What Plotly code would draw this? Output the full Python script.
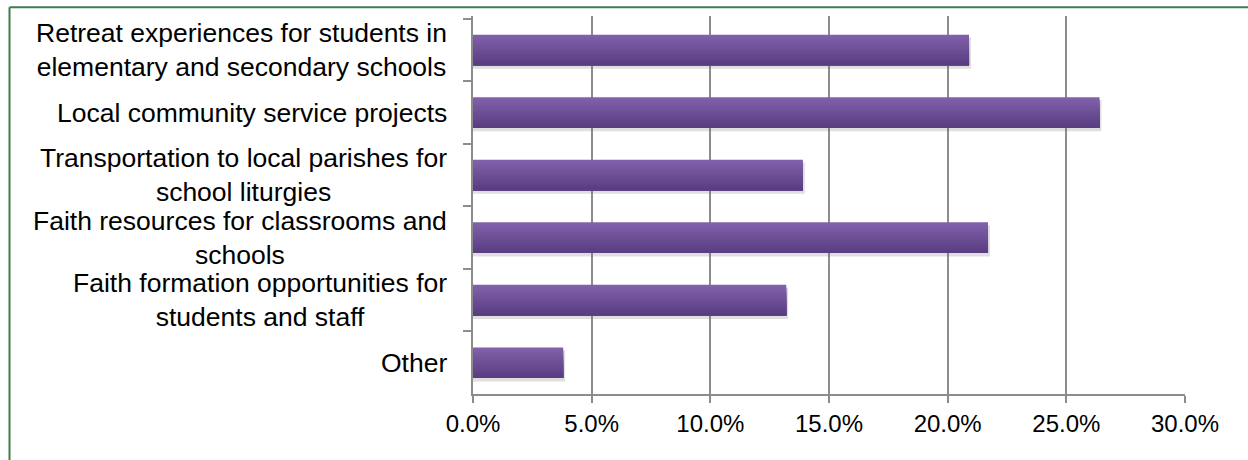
import plotly.graph_objects as go

categories = [
    "Retreat experiences for students in<br>elementary and secondary schools",
    "Local community service projects",
    "Transportation to local parishes for<br>school liturgies",
    "Faith resources for classrooms and<br>schools",
    "Faith formation opportunities for<br>students and staff",
    "Other",
]
values = [20.9, 26.4, 13.9, 21.7, 13.2, 3.8]
tick_vals = [0, 5, 10, 15, 20, 25, 30]
tick_text = ["0.0%", "5.0%", "10.0%", "15.0%", "20.0%", "25.0%", "30.0%"]

W, H = 1248, 460
L, R, T, B = 473, 63, 16, 66
pw, ph = W - L - R, H - T - B
FONT = "Liberation Sans, Arial, sans-serif"

fig = go.Figure()
# soft shadow
fig.add_trace(go.Bar(
    y=categories, x=[v + 0.08 for v in values], orientation="h",
    marker=dict(color="rgba(110,110,110,0.22)", line=dict(width=0)),
    width=0.5, offset=-0.2, hoverinfo="skip", showlegend=False,
))
# vertical gradient: layered strips, each one covering from its start to the bar bottom
top = (0x80, 0x60, 0xAB)
bot = (0x5A, 0x3E, 0x80)
n = 12
bw = 0.49
for i in range(n):
    t = i / (n - 1)
    col = "rgb(%d,%d,%d)" % tuple(round(top[k] + (bot[k] - top[k]) * t) for k in range(3))
    fig.add_trace(go.Bar(
        y=categories, x=values, orientation="h",
        marker=dict(color=col, line=dict(width=0)),
        width=bw - i * bw / n, offset=-bw / 2 + i * bw / n,
        hoverinfo="skip", showlegend=False,
    ))

annotations = []
for c in categories:
    annotations.append(dict(
        x=0, xref="paper", y=c, yref="y", text=c, showarrow=False,
        xanchor="right", yanchor="middle", align="center", xshift=-24,
        font=dict(family=FONT, size=26.5, color="#000000"),
    ))

shapes = [
    dict(type="line", xref="paper", yref="paper",
         x0=(9.5 - L) / pw, x1=(W + 20 - L) / pw,
         y0=(H - B - 7.3) / ph, y1=(H - B - 7.3) / ph,
         line=dict(color="#3E7E4B", width=2)),
    dict(type="line", xref="paper", yref="paper",
         x0=(9.5 - L) / pw, x1=(9.5 - L) / pw,
         y0=(H - B - 7.3) / ph, y1=(H - B - H - 20) / ph,
         line=dict(color="#3E7E4B", width=2)),
]

fig.update_layout(
    width=W, height=H,
    margin=dict(l=L, r=R, t=T, b=B, pad=0),
    paper_bgcolor="white", plot_bgcolor="white",
    barmode="overlay", bargap=0.5,
    font=dict(family=FONT, size=22, color="#000000"),
    annotations=annotations, shapes=shapes,
    xaxis=dict(
        range=[0, 30], tickvals=tick_vals, ticktext=tick_text,
        showgrid=True, gridcolor="#8C8C8C", gridwidth=2,
        showline=True, linecolor="#8C8C8C", linewidth=2,
        ticks="outside", ticklen=7, tickwidth=2, tickcolor="#8C8C8C",
        zeroline=False, fixedrange=True,
        tickfont=dict(size=24, family=FONT),
    ),
    yaxis=dict(
        autorange="reversed", showticklabels=False,
        showline=True, linecolor="#8C8C8C", linewidth=2,
        ticks="outside", ticklen=8, tickwidth=2, tickcolor="#8C8C8C",
        tickson="boundaries", showgrid=False, fixedrange=True,
    ),
)

fig.write_html("out.html")
